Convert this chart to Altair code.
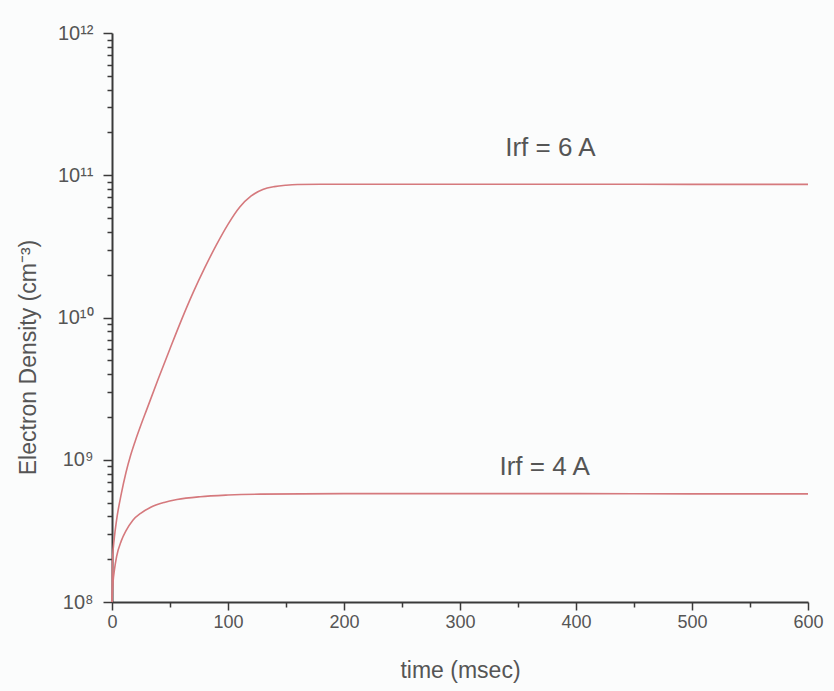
import altair as alt
import pandas as pd

# Electron density growth for two RF coil currents
t_6a = [0, 0.5, 2, 4, 8, 12, 16, 20, 25, 30, 40, 50, 60, 70, 80, 90, 100,
        110, 120, 130, 140, 150, 160, 180, 200, 300, 400, 500, 600]
n_6a = [1.0e8, 2.0e8, 2.82e8, 3.8e8, 5.75e8, 8.1e8, 1.07e9, 1.35e9, 1.76e9,
        2.26e9, 3.72e9, 6.03e9, 9.66e9, 1.50e10, 2.24e10, 3.24e10, 4.52e10,
        5.96e10, 7.16e10, 7.94e10, 8.32e10, 8.51e10, 8.61e10, 8.65e10,
        8.65e10, 8.65e10, 8.65e10, 8.62e10, 8.62e10]

t_4a = [0, 1, 2, 4, 8, 12, 18, 25, 33, 45, 56, 76, 100, 128, 200, 300,
        400, 500, 600]
n_4a = [1.0e8, 1.41e8, 1.66e8, 2.09e8, 2.69e8, 3.16e8, 3.76e8, 4.22e8,
        4.62e8, 5.01e8, 5.25e8, 5.5e8, 5.65e8, 5.73e8, 5.78e8, 5.78e8,
        5.78e8, 5.76e8, 5.76e8]

# Curve labels
label_text = ["Irf = 6 A", "Irf = 4 A"]
label_t = [339, 334]
label_n = [1.55e11, 8.9e8]

# Axis ticks: labelled decades / hundreds plus unlabelled minor ticks
x_ticks = [0, 50, 100, 150, 200, 250, 300, 350, 400, 450, 500, 550, 600]
y_ticks = [1e8, 2e8, 3e8, 4e8, 5e8, 6e8, 7e8, 8e8, 9e8,
           1e9, 2e9, 3e9, 4e9, 5e9, 6e9, 7e9, 8e9, 9e9,
           1e10, 2e10, 3e10, 4e10, 5e10, 6e10, 7e10, 8e10, 9e10,
           1e11, 2e11, 3e11, 4e11, 5e11, 6e11, 7e11, 8e11, 9e11, 1e12]

curves = pd.concat([
    pd.DataFrame({"t": t_6a, "n": n_6a, "series": "6 A"}),
    pd.DataFrame({"t": t_4a, "n": n_4a, "series": "4 A"}),
])
labels = pd.DataFrame({"text": label_text, "t": label_t, "n": label_n})

FONT = "Liberation Sans"
AXIS_COLOR = "#3a3a3a"
TEXT_COLOR = "#555555"
LINE_COLOR = "#d5797d"

x_scale = alt.Scale(domain=[0, 600], nice=False, zero=False)
y_scale = alt.Scale(type="log", domain=[1e8, 1e12], nice=False)

lg = "(log(datum.value)/LN10)"
is_decade = f"abs({lg} - round({lg})) < 1e-6"
exp = f"round({lg})"
y_label = (f"{is_decade} ? '10' + ({exp} == 8 ? '⁸' : {exp} == 9 ? '⁹' : "
           f"{exp} == 10 ? '¹⁰' : {exp} == 11 ? '¹¹' : '¹²') : ''")
is_hundred = "datum.value % 100 == 0"
x_label = f"{is_hundred} ? datum.label : ''"

x_axis = alt.Axis(
    values=x_ticks, title="time (msec)", orient="bottom",
    labelExpr=x_label, labelOverlap=False,
    labelFont=FONT, labelFontSize=18, labelColor=TEXT_COLOR, labelPadding=3,
    titleFont=FONT, titleFontSize=23, titleFontWeight="normal",
    titleColor=TEXT_COLOR, titlePadding=28,
    domainColor=AXIS_COLOR, domainWidth=2, tickColor=AXIS_COLOR,
    tickWidth=1.5,
    tickSize={"condition": {"test": is_hundred, "value": 8}, "value": 5},
    grid=False, labelFlush=False,
)
y_axis = alt.Axis(
    values=y_ticks, title="Electron Density  (cm⁻³)", orient="left",
    labelExpr=y_label, labelOverlap=False,
    labelFont=FONT, labelFontSize=20, labelColor=TEXT_COLOR, labelPadding=10,
    titleFont=FONT, titleFontSize=23, titleFontWeight="normal",
    titleColor=TEXT_COLOR, titlePadding=17, titleY=324,
    domainColor=AXIS_COLOR, domainWidth=2, tickColor=AXIS_COLOR,
    tickWidth=1.5,
    tickSize={"condition": {"test": is_decade, "value": 9}, "value": 5},
    grid=False, labelFlush=False,
)

lines = alt.Chart(curves).mark_line(
    color=LINE_COLOR, strokeWidth=1.6, interpolate="monotone"
).encode(
    x=alt.X("t:Q", scale=x_scale, axis=x_axis),
    y=alt.Y("n:Q", scale=y_scale, axis=y_axis),
    detail="series:N",
)

text = alt.Chart(labels).mark_text(
    align="left", baseline="middle", font=FONT, fontSize=26,
    color=TEXT_COLOR,
).encode(
    x=alt.X("t:Q", axis=x_axis),
    y=alt.Y("n:Q", axis=y_axis),
    text="text:N",
)

chart = alt.layer(lines, text).properties(
    width=696,
    height=569,
    autosize=alt.AutoSizeParams(type="none"),
    padding={"left": 112, "top": 33, "right": 26, "bottom": 89},
    background="#fbfcfc",
).configure_view(stroke=None)

chart.save("out.html", embed_options={"renderer": "svg", "actions": False})
